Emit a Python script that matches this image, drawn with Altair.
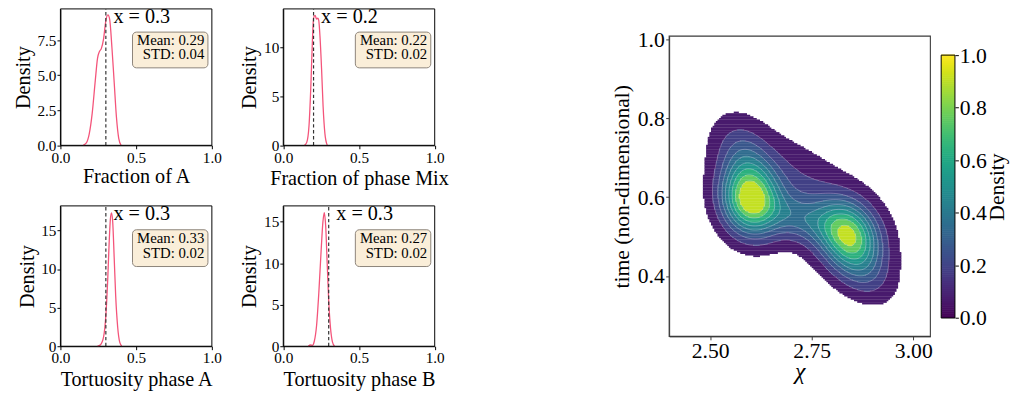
import altair as alt
import numpy as np
import pandas as pd

SERIF = "Liberation Serif"

# ---------------- data: 1-D posterior densities ----------------
panel_titles = ["Fraction of A", "Fraction of phase Mix", "Tortuosity phase A", "Tortuosity phase B"]
true_values = [0.3, 0.2, 0.3, 0.3]
mean_values = [0.29, 0.22, 0.33, 0.27]
std_values = [0.04, 0.02, 0.02, 0.02]
density_ymax = [9.73, 13.95, 18.19, 16.9]
density_ticks = [[0, 2.5, 5.0, 7.5], [0, 5, 10], [0, 5, 10, 15], [0, 5, 10, 15]]
density_tick_format = [".1f", "d", "d", "d"]
x_ticks = [0.0, 0.5, 1.0]

frac_a_x = [0.150, 0.170, 0.190, 0.210, 0.230, 0.245, 0.258, 0.270, 0.285, 0.300, 0.314, 0.325, 0.340, 0.355, 0.370, 0.385, 0.400]
frac_a_y = [0.00, 0.15, 0.80, 2.30, 4.60, 6.20, 6.70, 6.90, 7.60, 8.90, 9.30, 9.00, 7.00, 4.50, 2.00, 0.50, 0.02]

frac_mix_x = [0.140, 0.155, 0.170, 0.182, 0.192, 0.200, 0.210, 0.220, 0.228, 0.234, 0.243, 0.253, 0.263, 0.275, 0.290]
frac_mix_y = [0.00, 0.30, 2.00, 6.00, 10.5, 13.0, 13.3, 12.9, 13.0, 12.8, 11.0, 7.80, 4.00, 1.20, 0.02]

tort_a_x = [0.245, 0.265, 0.285, 0.300, 0.312, 0.322, 0.330, 0.337, 0.345, 0.355, 0.365, 0.378, 0.392, 0.405]
tort_a_y = [0.00, 0.20, 1.20, 4.00, 8.50, 13.5, 16.5, 17.3, 16.2, 11.5, 6.50, 2.50, 0.50, 0.02]

tort_b_x = [0.165, 0.180, 0.192, 0.205, 0.220, 0.235, 0.250, 0.262, 0.271, 0.280, 0.290, 0.300, 0.312, 0.325, 0.338]
tort_b_y = [0.00, 0.15, 0.10, 0.60, 2.50, 6.50, 11.5, 15.0, 16.1, 14.5, 10.0, 5.50, 2.20, 0.50, 0.02]

curves_x = [frac_a_x, frac_mix_x, tort_a_x, tort_b_x]
curves_y = [frac_a_y, frac_mix_y, tort_a_y, tort_b_y]

# ---------------- data: 2-D density (chi, time), estimated mixture ----------------
comp_chi = [2.598, 2.587, 2.841, 2.865, 2.720, 2.725]
comp_time = [0.592, 0.690, 0.507, 0.430, 0.545, 0.600]
comp_sd_chi = [0.046, 0.044, 0.048, 0.050, 0.070, 0.115]
comp_sd_time = [0.058, 0.063, 0.055, 0.056, 0.040, 0.100]
comp_rho = [-0.10, -0.30, -0.20, -0.40, -0.40, -0.60]
comp_weight = [1.00, 0.24, 0.80, 0.26, 0.25, 0.19]
contour_levels = [0.045, 0.13, 0.22, 0.31, 0.40, 0.50, 0.60, 0.71, 0.82]
band_color_values = [0.07, 0.19, 0.27, 0.35, 0.43, 0.52, 0.64, 0.76, 0.91]
chi_ticks = [2.50, 2.75, 3.00]
time_ticks = [0.4, 0.6, 0.8, 1.0]
chi_domain = [2.399, 3.042]
time_domain = [0.247, 1.008]
colorbar_ticks = [0.0, 0.2, 0.4, 0.6, 0.8, 1.0]
colorbar_steps = 128

# ---------------- layout (pixels, plot-area coordinates) ----------------
W, H = 884.6, 343.0
PANEL_X = [(0, 154), (226.6, 380.6), (0, 154), (226.6, 380.6)]
PANEL_Y = [(138.7, 0), (138.7, 0), (343, 200.3), (343, 200.3)]
YTITLE_X = [-31.0, -27.8, -27.3, -27.8]
XTITLE_Y = [37.5, 39.5, 39.5, 39.5]
CONTOUR_X = (619, 884.6)
CONTOUR_Y = (333, 27.7)
CBAR_X = (895.6, 909.6)
CBAR_Y = (314.3, 47)
CURVE_COLOR = "#f4547a"

layers = []


def xenc(i, field, with_axis=False):
    ax = None
    if with_axis:
        ax = alt.Axis(title=panel_titles[i], values=x_ticks, format=".1f", orient="bottom",
                      offset=PANEL_Y[i][0] - H, labelFontSize=15.5, titleFontSize=20.5,
                      tickSize=3.5, labelPadding=1.5, titleBaseline="alphabetic", titleY=XTITLE_Y[i])
    return alt.X(field, type="quantitative", axis=ax,
                 scale=alt.Scale(domain=[0, 1], range=list(PANEL_X[i]), nice=False, zero=False))


def yenc(i, field, with_axis=False):
    ax = None
    if with_axis:
        ax = alt.Axis(title="Density", values=density_ticks[i], format=density_tick_format[i],
                      orient="left", offset=-PANEL_X[i][0], labelFontSize=15.5, titleFontSize=20.5,
                      tickSize=3.5, labelPadding=1, titleBaseline="alphabetic", titleX=YTITLE_X[i])
    return alt.Y(field, type="quantitative", axis=ax,
                 scale=alt.Scale(domain=[0, density_ymax[i]], range=list(PANEL_Y[i]), nice=False, zero=False))


for i in range(4):
    ym = density_ymax[i]
    curve = pd.DataFrame({"x": curves_x[i], "y": curves_y[i]})
    layers.append(alt.Chart(curve).mark_line(color=CURVE_COLOR, strokeWidth=1.3, interpolate="monotone")
                  .encode(x=xenc(i, "x"), y=yenc(i, "y")))
    rule = pd.DataFrame({"x": [true_values[i]], "y0": [0.0], "y1": [ym]})
    layers.append(alt.Chart(rule).mark_rule(color="#333333", strokeWidth=1.2, strokeDash=[3.5, 2.5])
                  .encode(x=xenc(i, "x"), y=yenc(i, "y0"), y2="y1"))
    lab = pd.DataFrame({"x": [true_values[i] + 0.05], "y": [0.9 * ym], "t": [f"x = {true_values[i]}"]})
    layers.append(alt.Chart(lab).mark_text(align="left", baseline="alphabetic", font=SERIF,
                                           fontSize=20.5, color="black")
                  .encode(x=xenc(i, "x"), y=yenc(i, "y"), text="t:N"))
    box = pd.DataFrame({"x0": [0.476], "x1": [0.974], "y0": [0.568 * ym], "y1": [0.83 * ym]})
    layers.append(alt.Chart(box).mark_rect(fill="#f5deb3", fillOpacity=0.5, stroke="#8c8378",
                                           strokeWidth=1, cornerRadius=4)
                  .encode(x=xenc(i, "x0"), x2="x1", y=yenc(i, "y0"), y2="y1"))
    stats = pd.DataFrame({"x": [0.95, 0.95], "y": [0.736 * ym, 0.631 * ym],
                          "t": [f"Mean: {mean_values[i]:.2f}", f"STD: {std_values[i]:.2f}"]})
    layers.append(alt.Chart(stats).mark_text(align="right", baseline="alphabetic", font=SERIF,
                                             fontSize=15, color="black")
                  .encode(x=xenc(i, "x"), y=yenc(i, "y"), text="t:N"))
    frame = pd.DataFrame({"x0": [0.0], "x1": [1.0], "y0": [0.0], "y1": [ym]})
    layers.append(alt.Chart(frame).mark_rect(fillOpacity=0, stroke="black", strokeWidth=1)
                  .encode(x=xenc(i, "x0", True), x2="x1", y=yenc(i, "y0", True), y2="y1"))

# ---------------- contour grid ----------------
step = 0.004
gchi = np.arange(2.44, 3.0, step)
gtime = np.arange(0.27, 0.89, step)
CH, TT = np.meshgrid(gchi, gtime)
dens = np.zeros_like(CH)
for cx, cy, sx, sy, r, w in zip(comp_chi, comp_time, comp_sd_chi, comp_sd_time, comp_rho, comp_weight):
    dx = (CH - cx) / sx
    dy = (TT - cy) / sy
    q = (dx * dx - 2 * r * dx * dy + dy * dy) / (1 - r * r)
    dens += w * np.exp(-0.5 * q)
dens /= dens.max()
band = np.digitize(dens, contour_levels) - 1

rows = []
nx, ny = len(gchi), len(gtime)
for j in range(ny):
    i = 0
    while i < nx:
        b = band[j, i]
        k = i
        while k + 1 < nx and band[j, k + 1] == b:
            k += 1
        if b >= 0:
            rows.append({"c0": gchi[i] - step / 2, "c1": gchi[k] + step / 2 + step * 0.15,
                         "t0": gtime[j] - step / 2, "t1": gtime[j] + step / 2 + step * 0.2,
                         "v": band_color_values[b]})
        i = k + 1
cells = pd.DataFrame(rows)

# iso-lines between filled bands (marching squares on the same grid)
segs = []
for L in contour_levels[1:]:
    above = dens >= L
    for j in range(ny - 1):
        rowmix = above[j, :-1] ^ above[j, 1:] | above[j + 1, :-1] ^ above[j + 1, 1:] | above[j, :-1] ^ above[j + 1, :-1]
        for i in np.nonzero(rowmix | (above[j, 1:] ^ above[j + 1, 1:]))[0]:
            v00, v01, v10, v11 = dens[j, i], dens[j, i + 1], dens[j + 1, i], dens[j + 1, i + 1]
            pts = []
            if (v00 >= L) != (v01 >= L):
                f = (L - v00) / (v01 - v00)
                pts.append((gchi[i] + f * step, gtime[j]))
            if (v01 >= L) != (v11 >= L):
                f = (L - v01) / (v11 - v01)
                pts.append((gchi[i + 1], gtime[j] + f * step))
            if (v10 >= L) != (v11 >= L):
                f = (L - v10) / (v11 - v10)
                pts.append((gchi[i] + f * step, gtime[j + 1]))
            if (v00 >= L) != (v10 >= L):
                f = (L - v00) / (v10 - v00)
                pts.append((gchi[i], gtime[j] + f * step))
            for a in range(0, len(pts) - 1, 2):
                segs.append({"c0": pts[a][0], "t0": pts[a][1], "c1": pts[a + 1][0], "t1": pts[a + 1][1]})
iso = pd.DataFrame(segs)

color_scale = alt.Scale(scheme="viridis", domain=[0, 1])
cx_scale = alt.Scale(domain=chi_domain, range=list(CONTOUR_X), nice=False, zero=False)
cy_scale = alt.Scale(domain=time_domain, range=list(CONTOUR_Y), nice=False, zero=False)

layers.append(alt.Chart(cells).mark_rect(strokeWidth=0).encode(
    x=alt.X("c0:Q", scale=cx_scale, axis=None), x2="c1",
    y=alt.Y("t0:Q", scale=cy_scale, axis=None), y2="t1",
    color=alt.Color("v:Q", scale=color_scale, legend=None)))

layers.append(alt.Chart(iso).mark_rule(color="#e8e4f4", strokeWidth=0.7, opacity=0.45).encode(
    x=alt.X("c0:Q", scale=cx_scale, axis=None), x2="c1",
    y=alt.Y("t0:Q", scale=cy_scale, axis=None), y2="t1"))

cframe = pd.DataFrame({"c0": [chi_domain[0]], "c1": [chi_domain[1]], "t0": [time_domain[0]], "t1": [time_domain[1]]})
layers.append(alt.Chart(cframe).mark_rect(fillOpacity=0, stroke="#3a3a3a", strokeWidth=1.1).encode(
    x=alt.X("c0:Q", scale=cx_scale,
            axis=alt.Axis(title="χ", titleFontStyle="italic", values=chi_ticks, format=".2f", orient="bottom",
                          offset=CONTOUR_Y[0] - H, labelFontSize=22, titleFontSize=24, tickSize=3.5,
                          labelPadding=1, titleBaseline="alphabetic", titleY=43,
                          domainColor="#3a3a3a", tickColor="#3a3a3a")),
    x2="c1",
    y=alt.Y("t0:Q", scale=cy_scale,
            axis=alt.Axis(title="time (non-dimensional)", values=time_ticks, format=".1f", orient="left",
                          offset=-CONTOUR_X[0], labelFontSize=22, titleFontSize=22, tickSize=3.5,
                          labelPadding=1.5, titleBaseline="alphabetic", titleX=-41,
                          domainColor="#3a3a3a", tickColor="#3a3a3a")),
    y2="t1"))

# ---------------- colorbar ----------------
cb_vals = np.arange(colorbar_steps) / colorbar_steps
cbar = pd.DataFrame({"b0": cb_vals, "b1": cb_vals + 1.3 / colorbar_steps,
                     "v": cb_vals + 0.5 / colorbar_steps, "x0": 0.0, "x1": 1.0})
cbx = alt.Scale(domain=[0, 1], range=list(CBAR_X), nice=False, zero=False)
cby = alt.Scale(domain=[0, 1], range=list(CBAR_Y), nice=False, zero=False)
layers.append(alt.Chart(cbar).mark_rect(strokeWidth=0).encode(
    x=alt.X("x0:Q", scale=cbx, axis=None), x2="x1",
    y=alt.Y("b0:Q", scale=cby, axis=None), y2="b1",
    color=alt.Color("v:Q", scale=color_scale, legend=None)))
cbframe = pd.DataFrame({"x0": [0.0], "x1": [1.0], "b0": [0.0], "b1": [1.0]})
layers.append(alt.Chart(cbframe).mark_rect(fillOpacity=0, stroke="black", strokeWidth=1).encode(
    x=alt.X("x0:Q", scale=cbx, axis=None), x2="x1",
    y=alt.Y("b0:Q", scale=cby,
            axis=alt.Axis(title="Density", values=colorbar_ticks, format=".1f", orient="right",
                          offset=CBAR_X[1] - W, labelFontSize=22, titleFontSize=22, tickSize=3.5,
                          labelPadding=1, titleAngle=270, titleBaseline="alphabetic", titleX=49,
                          domain=False)),
    y2="b1"))

chart = (alt.layer(*layers)
         .resolve_scale(x="independent", y="independent")
         .properties(width=W, height=H, padding={"left": 5.3, "top": -5.3, "right": 4, "bottom": 0})
         .configure_view(stroke=None)
         .configure_axis(grid=False, domainColor="black", tickColor="black", labelColor="black",
                         titleColor="black", labelFont=SERIF, titleFont=SERIF, titleFontWeight="normal",
                         labelFlush=False, labelOverlap=False, domainWidth=1, tickWidth=1))

chart.save("out.html", embed_options={"renderer": "svg", "actions": False})
